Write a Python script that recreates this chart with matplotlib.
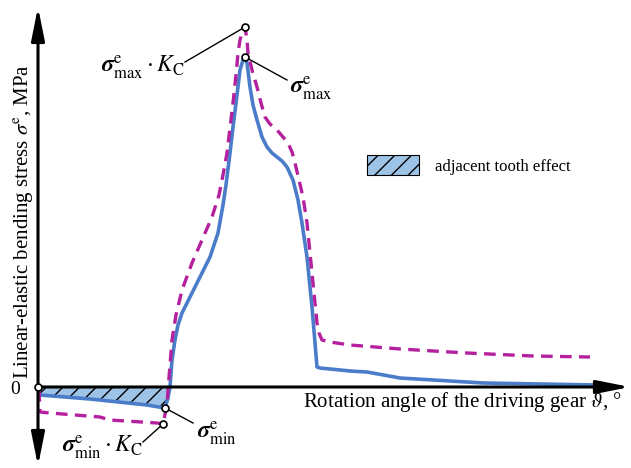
import numpy as np
import matplotlib
matplotlib.use("Agg")
import matplotlib.pyplot as plt
from matplotlib.patches import Patch

plt.rcParams['font.family'] = ['Liberation Serif', 'DejaVu Serif']
plt.rcParams['mathtext.fontset'] = 'stix'
plt.rcParams['hatch.linewidth'] = 1.0

# rotation angle (deg) and linear-elastic bending stress (MPa)
angle_e = [0.2, 5.2, 10.9, 12.7, 13.0, 13.2, 13.4, 13.7, 14.0, 14.4,
           15.2, 16.2, 17.2, 18.0, 18.5, 18.8, 19.2, 19.5, 19.8, 20.2,
           20.5, 20.7, 20.9, 21.2, 21.5, 21.9, 22.4, 22.9, 23.4, 23.9,
           24.4, 24.9, 25.5, 26.0, 26.4, 26.9, 27.4, 27.9, 28.2, 29.2,
           31.2, 32.9, 36.2, 44.5, 55.9]
stress_e = [-16, -24, -36, -42, -22, 0, 54, 94, 124, 148,
            180, 220, 260, 308, 364, 404, 468, 520, 568, 634,
            654, 660, 648, 600, 564, 534, 500, 480, 468, 460,
            452, 440, 414, 374, 328, 260, 160, 40, 38, 36,
            32, 30, 18, 8, 4]

angle_kc = [0.1, 0.2, 1.2, 6.2, 7.2, 11.9, 12.5, 12.9, 13.0, 13.2,
            13.4, 13.8, 14.4, 15.4, 16.4, 17.4, 18.1, 18.5, 18.9, 19.2,
            19.5, 19.8, 20.0, 20.2, 20.5, 20.7, 20.9, 21.0, 21.4, 21.9,
            22.3, 22.7, 23.2, 23.9, 24.5, 25.0, 25.4, 25.7, 26.1, 26.5,
            26.9, 27.4, 27.9, 28.1, 28.4, 29.2, 31.2, 36.2, 42.9, 49.5,
            55.2]
stress_kc = [-6, -50, -52, -60, -66, -72, -74, -36, -6, 44,
             94, 144, 194, 248, 294, 340, 384, 424, 468, 518,
             568, 624, 668, 694, 714, 720, 694, 668, 634, 600,
             568, 540, 526, 514, 500, 488, 470, 448, 414, 380,
             328, 228, 128, 108, 94, 90, 84, 76, 68, 62,
             60]

# points of the solid curve inside the adjacent-tooth zone
n_adj = 6

blue = '#4a7cc9'
pink = '#b5209e'

fig = plt.figure(figsize=(6.31, 4.68), dpi=100)
ax = fig.add_axes([0, 0, 1, 1])
ax.set_xlim(-3.8, 59.3)
ax.set_ylim(-162, 774)
ax.axis('off')

# adjacent tooth effect zone
ax.fill_between(angle_e[:n_adj], 0, stress_e[:n_adj], facecolor='#9dc3e6',
                edgecolor='k', hatch='//', linewidth=0, zorder=1)

ax.plot(angle_kc, stress_kc, color=pink, lw=2.4, ls=(0, (3.5, 2.2)), zorder=3)
ax.plot(angle_e, stress_e, color=blue, lw=2.6, zorder=2, solid_joinstyle='round')

# axes with arrows
arr = dict(arrowstyle='-|>,head_length=1.0,head_width=0.2', color='k', lw=2.2,
           mutation_scale=20, shrinkA=0, shrinkB=0)
ax.annotate('', xy=(59.2, 0), xytext=(0, 0), arrowprops=arr, zorder=4)
ax.annotate('', xy=(0, 760), xytext=(0, 0), arrowprops=arr, zorder=4)
ax.annotate('', xy=(0, -158), xytext=(0, 0), arrowprops=arr, zorder=4)

# marked points
i_max_e = int(np.argmax(stress_e))
i_min_e = int(np.argmin(stress_e))
i_max_kc = int(np.argmax(stress_kc))
i_min_kc = int(np.argmin(stress_kc))

labels = [
    (i_max_kc, angle_kc, stress_kc, (14.7, 650), (6.3, 630),
     r'$\boldsymbol{\sigma}^{\mathrm{e}}_{\mathrm{max}}\cdot K_{\mathrm{C}}$'),
    (i_max_e, angle_e, stress_e, (24.9, 614), (25.2, 588),
     r'$\boldsymbol{\sigma}^{\mathrm{e}}_{\mathrm{max}}$'),
    (i_min_e, angle_e, stress_e, (15.5, -72), (15.9, -102),
     r'$\boldsymbol{\sigma}^{\mathrm{e}}_{\mathrm{min}}$'),
    (i_min_kc, angle_kc, stress_kc, (10.5, -110), (2.4, -130),
     r'$\boldsymbol{\sigma}^{\mathrm{e}}_{\mathrm{min}}\cdot K_{\mathrm{C}}$'),
]
for i, xs, ys, end, pos, txt in labels:
    ax.plot([xs[i], end[0]], [ys[i], end[1]], color='k', lw=1.0, zorder=5)
    ax.plot(xs[i], ys[i], 'o', ms=5, mfc='white', mec='k', mew=1.2, zorder=6)
    ax.text(pos[0], pos[1], txt, fontsize=17, va='baseline', ha='left')

ax.plot(0, 0, 'o', ms=5, mfc='white', mec='k', mew=1.2, zorder=6)
ax.text(-2.3, -6, '0', fontsize=14, ha='center', va='center')

ax.text(58.4, -30, r'Rotation angle of the driving gear $\vartheta$, °',
        fontsize=15, ha='right', va='center')
ax.text(-1.4, 330, r'Linear-elastic bending stress $\sigma^{\mathrm{e}}$, MPa',
        fontsize=15, rotation=90, ha='center', va='center')

ax.legend(handles=[Patch(facecolor='#9dc3e6', edgecolor='k', hatch='//',
                         linewidth=0.8, label='adjacent tooth effect')],
          loc='center left', bbox_to_anchor=(367 / 631, 1 - 165 / 468),
          bbox_transform=fig.transFigure, frameon=False, fontsize=12,
          handlelength=3.1, handleheight=1.5, handletextpad=1.0,
          borderpad=0, borderaxespad=0)

fig.savefig('out.png', dpi=100)
